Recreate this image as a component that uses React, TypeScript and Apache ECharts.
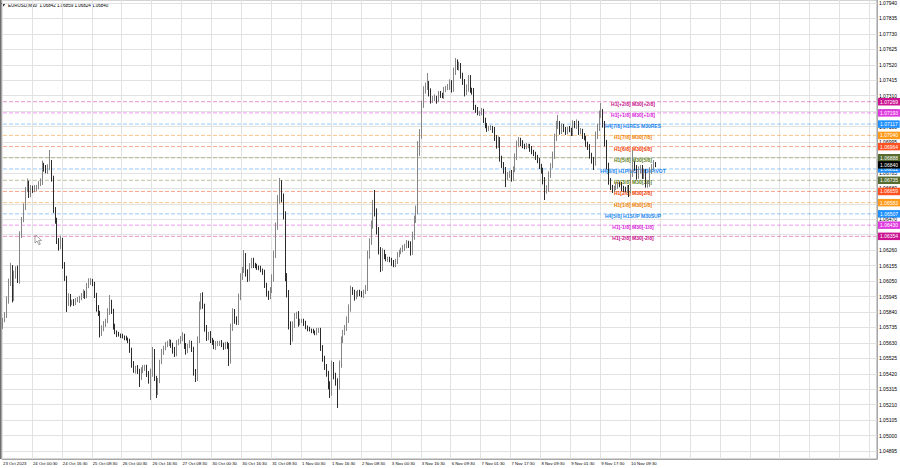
import React, { useEffect, useRef } from 'react';
import * as echarts from 'echarts';

// ---- time axis (hourly bars stamped at :30) ----
const SESSION_DAYS = ['23 Oct', '24 Oct', '25 Oct', '26 Oct', '27 Oct', '30 Oct', '31 Oct', '1 Nov', '2 Nov', '3 Nov', '6 Nov', '7 Nov', '8 Nov', '9 Nov', '10 Nov'];
const SESSION_FIRST_HOUR = [8, 0, 0, 0, 0, 0, 0, 0, 0, 0, 1, 0, 0, 0, 0];
const SESSION_LAST_HOUR = [23, 23, 23, 23, 23, 23, 23, 23, 23, 23, 23, 23, 23, 23, 22];
const FIRST_LABEL = '23 Oct 2023';
const TOTAL_SLOTS = 468;

// ---- prices in points (1 point = 0.00001) above 1.00000 ----
const FIRST_OPEN = 5750;
const CLOSE_PTS = [
  5785, 5819, 5921, 6037, 6139, 5935, 6091, 6125, 6057, 6363,
  6465, 6553, 6669, 6717, 6635, 6683, 6669, 6683, 6689, 6710,
  6723, 6839, 6819, 6798, 6819, 6853, 6751, 6533, 6465, 6322,
  6282, 6329, 6159, 6071, 5901, 5942, 5901, 5908, 5901, 5921,
  5921, 5935, 5949, 5969, 5949, 6017, 6044, 6050, 6030, 5955,
  5867, 5833, 5697, 5724, 5758, 5779, 5840, 5908, 5847, 5745,
  5704, 5690, 5683, 5677, 5670, 5663, 5656, 5643, 5582, 5486,
  5446, 5459, 5439, 5398, 5439, 5459, 5466, 5418, 5378, 5425,
  5568, 5391, 5296, 5371, 5500, 5568, 5595, 5616, 5629, 5636,
  5616, 5582, 5554, 5629, 5643, 5656, 5677, 5609, 5575, 5609,
  5629, 5588, 5432, 5391, 5649, 5881, 5949, 5881, 5731, 5663,
  5690, 5649, 5636, 5602, 5622, 5629, 5629, 5616, 5602, 5622,
  5609, 5514, 5731, 5840, 5785, 5772, 5935, 6078, 6125, 6220,
  6105, 6064, 6152, 6193, 6159, 6152, 6146, 6139, 6125, 6112,
  6023, 5969, 5942, 5989, 6071, 6227, 6418, 6601, 6710, 6615,
  6499, 6084, 5969, 5751, 5663, 5751, 5813, 5826, 5765, 5779,
  5779, 5765, 5738, 5724, 5717, 5711, 5704, 5697, 5717, 5717,
  5595, 5527, 5466, 5425, 5344, 5296, 5480, 5412, 5364, 5337,
  5480, 5649, 5697, 5731, 5785, 5867, 5989, 5976, 5942, 5962,
  5976, 5962, 5955, 5976, 6003, 6227, 6316, 6431, 6567, 6519,
  6397, 6261, 6139, 6248, 6214, 6200, 6200, 6193, 6173, 6159,
  6186, 6227, 6248, 6261, 6275, 6288, 6309, 6295, 6248, 6356,
  6465, 6533, 6941, 7043, 7247, 7349, 7369, 7390, 7335, 7281,
  7288, 7294, 7281, 7322, 7315, 7308, 7349, 7362, 7369, 7396,
  7356, 7471, 7532, 7505, 7512, 7451, 7403, 7335, 7362, 7430,
  7349, 7342, 7233, 7213, 7192, 7192, 7206, 7145, 7104, 7084,
  7090, 7090, 7077, 7022, 6975, 7009, 6887, 6839, 6805, 6757,
  6771, 6785, 6751, 6805, 6893, 6975, 7009, 6988, 6968, 6961,
  6968, 6968, 6948, 6927, 6914, 6893, 6866, 6832, 6805, 6737,
  6669, 6676, 6771, 6832, 6900, 7022, 7104, 7118, 7070, 7097,
  7077, 7063, 7084, 7077, 7056, 7118, 7104, 7124, 7063, 7070,
  7036, 7022, 6982, 6961, 6907, 6873, 6859, 7036, 7090, 7179,
  7199, 7118, 6995, 6839, 6730, 6689, 6669, 6683, 6696, 6710,
  6703, 6683, 6676, 6669, 6683, 6669, 6778, 6839, 6819, 6764,
  6805, 6819, 6764, 6791, 6710, 6710, 6798, 6825, 6853, 6840,
];
const WICK_HIGH_PTS = [
  15, 20, 25, 30, 35, 20, 30, 25, 30, 25,
  20, 25, 20, 30, 15, 20, 15, 20, 15, 20,
  25, 30, 15, 20, 25, 88, 20, 15, 20, 15,
  20, 30, 15, 20, 15, 25, 20, 15, 20, 15,
  20, 15, 20, 25, 15, 20, 25, 20, 15, 15,
  15, 20, 15, 25, 20, 15, 25, 47, 15, 15,
  15, 10, 15, 10, 15, 10, 15, 10, 15, 15,
  20, 15, 20, 15, 25, 20, 15, 15, 20, 30,
  34, 20, 15, 20, 15, 20, 15, 20, 15, 20,
  15, 15, 20, 20, 15, 20, 25, 15, 20, 15,
  20, 15, 15, 20, 25, 30, 20, 25, 15, 20,
  15, 20, 15, 15, 20, 15, 15, 20, 15, 15,
  15, 20, 30, 25, 20, 25, 30, 25, 20, 41,
  20, 25, 20, 15, 15, 15, 15, 10, 15, 10,
  15, 15, 15, 20, 25, 30, 30, 35, 41, 25,
  30, 25, 20, 20, 25, 25, 20, 15, 20, 15,
  15, 15, 15, 10, 15, 10, 15, 10, 15, 15,
  15, 20, 15, 20, 15, 25, 30, 20, 15, 25,
  30, 25, 20, 20, 25, 25, 30, 20, 15, 20,
  15, 15, 20, 15, 20, 30, 25, 30, 35, 102,
  25, 20, 20, 25, 15, 20, 15, 15, 15, 20,
  15, 20, 15, 15, 20, 15, 20, 15, 25, 30,
  30, 30, 60, 40, 30, 25, 30, 74, 20, 25,
  20, 25, 15, 20, 20, 15, 20, 15, 20, 25,
  20, 30, 34, 25, 30, 20, 15, 20, 25, 20,
  20, 15, 20, 15, 20, 15, 20, 15, 15, 20,
  15, 20, 15, 20, 20, 25, 20, 15, 20, 20,
  20, 15, 20, 25, 25, 30, 20, 15, 20, 15,
  20, 15, 15, 20, 15, 15, 15, 20, 15, 15,
  20, 25, 25, 20, 30, 30, 35, 61, 20, 25,
  20, 20, 15, 20, 15, 25, 20, 25, 15, 20,
  15, 20, 15, 15, 20, 15, 20, 30, 30, 30,
  61, 20, 20, 15, 15, 20, 15, 15, 20, 15,
  15, 20, 15, 15, 20, 20, 30, 102, 25, 20,
  25, 20, 20, 25, 20, 20, 25, 20, 20, 6,
];
const WICK_LOW_PTS = [
  25, 15, 20, 25, 20, 30, 20, 25, 20, 25,
  20, 15, 20, 15, 20, 15, 20, 15, 20, 15,
  15, 20, 25, 15, 20, 15, 25, 20, 25, 20,
  25, 15, 25, 20, 61, 20, 25, 15, 20, 15,
  15, 20, 15, 15, 20, 15, 15, 20, 15, 20,
  25, 20, 30, 20, 15, 20, 15, 20, 20, 25,
  15, 20, 10, 15, 10, 15, 10, 15, 20, 25,
  20, 25, 20, 68, 20, 15, 20, 20, 25, 136,
  25, 20, 41, 20, 15, 15, 20, 15, 15, 20,
  20, 25, 20, 15, 15, 20, 15, 20, 25, 15,
  15, 20, 25, 27, 20, 20, 25, 20, 25, 20,
  15, 20, 20, 15, 20, 15, 20, 15, 20, 15,
  20, 41, 25, 20, 25, 20, 20, 15, 20, 20,
  25, 20, 15, 15, 20, 15, 20, 15, 15, 20,
  20, 25, 20, 15, 20, 25, 20, 20, 25, 30,
  30, 35, 30, 30, 48, 25, 20, 20, 25, 15,
  15, 20, 15, 15, 10, 15, 10, 15, 15, 20,
  20, 25, 20, 25, 30, 41, 25, 30, 25, 150,
  25, 20, 20, 15, 20, 20, 25, 20, 25, 15,
  20, 15, 15, 20, 15, 20, 25, 20, 25, 30,
  30, 30, 28, 20, 15, 15, 20, 15, 20, 15,
  15, 20, 15, 15, 15, 20, 15, 20, 25, 20,
  25, 20, 30, 40, 25, 20, 25, 20, 30, 25,
  20, 15, 25, 15, 20, 15, 20, 15, 15, 20,
  25, 20, 20, 20, 25, 25, 20, 30, 20, 25,
  20, 25, 20, 20, 15, 20, 15, 20, 15, 20,
  15, 15, 20, 20, 25, 20, 25, 20, 25, 68,
  20, 20, 25, 20, 15, 20, 15, 20, 15, 15,
  15, 15, 20, 15, 15, 20, 15, 20, 25, 30,
  68, 25, 20, 20, 15, 20, 20, 20, 25, 20,
  15, 20, 15, 15, 20, 20, 15, 20, 20, 15,
  20, 15, 20, 20, 25, 25, 54, 25, 20, 20,
  20, 25, 30, 30, 25, 20, 20, 15, 15, 20,
  15, 20, 20, 15, 20, 48, 25, 20, 20, 25,
  20, 25, 20, 20, 25, 25, 20, 20, 15, 16,
];

// ---- price axis labels ----
const PRICE_TICKS = [
  1.0794, 1.07835, 1.0773, 1.07625, 1.0752, 1.07415, 1.0731, 1.07205, 1.071, 1.06995,
  1.0689, 1.06785, 1.0668, 1.06575, 1.0647, 1.06365, 1.0626, 1.06155, 1.0605, 1.05945,
  1.0584, 1.05735, 1.0563, 1.05525, 1.0542, 1.05315, 1.0521, 1.05105, 1.05, 1.04895,
];
const Y_MIN = 1.048406;
const Y_MAX = 1.079604;

// ---- Murrey levels ----
const LEVEL_PRICES = [1.07269, 1.07193, 1.07117, 1.0704, 1.06964, 1.06888, 1.06812, 1.06735, 1.06659, 1.06583, 1.06507, 1.0643, 1.06354];
const LEVEL_TEXTS = [
  'H1[+2/8] M30[+2/8]', 'H1[+1/8] M30[+1/8]', 'H4[7/8] H1RES M30RES', 'H1[7/8] M30[7/8]',
  'H1[6/8] M30[6/8]', 'H1[5/8] M30[5/8]', 'H4[6/8] H1PIVOT M30PIVOT', 'H1[3/8] M30[3/8]',
  'H1[2/8] M30[2/8]', 'H1[1/8] M30[1/8]', 'H4[5/8] H1SUP M30SUP', 'H1[-1/8] M30[-1/8]', 'H1[-2/8] M30[-2/8]',
];
const LEVEL_COLORS = ['#c8108a', '#d81ed8', '#1a86f0', '#f08000', '#f03c00', '#5f7f1c', '#1a86f0', '#5f7f1c', '#f03c00', '#f08000', '#1a86f0', '#d81ed8', '#c8108a'];
const LEVEL_TAG_COLORS = ['#cc1493', '#e03ae0', '#1e90ff', '#ff9a1a', '#ff5020', '#556b2f', '#1e90ff', '#556b2f', '#ff5020', '#ff9a1a', '#1e90ff', '#e03ae0', '#cc1493'];
const LEVEL_TEXT_SLOT = 337;
const LAST_PRICE = 1.0684;
const TITLE = 'EURUSD,M30  1.06842 1.06859 1.06824 1.06840';

const FONT = '"Liberation Sans", Arial, sans-serif';

function buildCategories(): string[] {
  const cats: string[] = [];
  SESSION_DAYS.forEach((d, k) => {
    for (let h = SESSION_FIRST_HOUR[k]; h <= SESSION_LAST_HOUR[k]; h++) {
      cats.push(`${d} ${String(h).padStart(2, '0')}:30`);
    }
  });
  while (cats.length < TOTAL_SLOTS) cats.push('');
  return cats;
}

function buildOhlc() {
  const toPrice = (p: number) => 1 + p / 100000;
  return CLOSE_PTS.map((c, i) => {
    const o = i === 0 ? FIRST_OPEN : CLOSE_PTS[i - 1];
    const hi = Math.max(o, c) + WICK_HIGH_PTS[i];
    const lo = Math.min(o, c) - WICK_LOW_PTS[i];
    return [toPrice(o), toPrice(c), toPrice(lo), toPrice(hi)];
  });
}

function tagLabel(text: string, bg: string) {
  return {
    show: true, distance: 2, formatter: text,
    backgroundColor: bg, color: '#ffffff', fontSize: 5, fontFamily: FONT,
    padding: [1.5, 2, 1, 2], align: 'left', verticalAlign: 'middle',
  };
}

export default function App() {
  const ref = useRef<HTMLDivElement>(null);
  useEffect(() => {
    document.body.style.margin = '0';
    if (!ref.current) return;
    const chart = echarts.init(ref.current, undefined, { renderer: 'svg' });
    const categories = buildCategories();
    const ohlc = buildOhlc();
    const lastSlot = TOTAL_SLOTS - 1;

    const levelSeries: any[] = LEVEL_PRICES.map((p, k) => ({
      type: 'line',
      z: 1,
      silent: true,
      showSymbol: false,
      symbol: 'none',
      data: [[0, p], [lastSlot, p]],
      lineStyle: { color: LEVEL_COLORS[k], type: [4, 2], width: 1, opacity: 0.45 },
      endLabel: tagLabel(p.toFixed(5), LEVEL_TAG_COLORS[k]),
    }));
    levelSeries.push({
      type: 'line',
      z: 2,
      silent: true,
      showSymbol: false,
      symbol: 'none',
      data: [[0, LAST_PRICE], [lastSlot, LAST_PRICE]],
      lineStyle: { opacity: 0 },
      endLabel: tagLabel(LAST_PRICE.toFixed(5), '#000000'),
    });

    chart.setOption({
      animation: false,
      backgroundColor: '#ffffff',
      grid: { left: 0, right: 23, top: 0, bottom: 9, show: true, borderColor: '#a8a8a8', borderWidth: 1 },
      xAxis: {
        type: 'category',
        data: categories,
        boundaryGap: true,
        axisLine: { show: true, lineStyle: { color: '#a8a8a8' } },
        axisTick: { show: false },
        axisLabel: {
          interval: 15, align: 'left', margin: 2, fontSize: 4.3, color: '#000', fontFamily: FONT,
          formatter: (v: string, idx: number) => (idx === 0 ? FIRST_LABEL : v),
        },
        splitLine: { show: true, interval: 15, lineStyle: { color: '#e2e2e2', width: 1 } },
      },
      yAxis: {
        type: 'value',
        position: 'right',
        min: Y_MIN,
        max: Y_MAX,
        axisLine: { show: true, lineStyle: { color: '#a8a8a8' } },
        axisTick: { show: false, customValues: PRICE_TICKS },
        axisLabel: {
          customValues: PRICE_TICKS, margin: 2, fontSize: 5, color: '#000', fontFamily: FONT,
          formatter: (v: number) => v.toFixed(5),
        },
        splitLine: { show: true, lineStyle: { color: '#e2e2e2', width: 1 } },
      },
      series: [
        ...levelSeries,
        {
          type: 'scatter',
          z: 1,
          silent: true,
          symbolSize: 0,
          data: LEVEL_PRICES.map((p, k) => ({
            value: [LEVEL_TEXT_SLOT, p],
            label: { color: LEVEL_COLORS[k] },
          })),
          label: {
            show: true, position: [0, 2], align: 'center', verticalAlign: 'middle',
            fontSize: 5, fontWeight: 'bold', fontFamily: FONT, textBorderWidth: 0, opacity: 1,
            formatter: (params: any) => LEVEL_TEXTS[params.dataIndex],
          },
        },
        {
          type: 'candlestick',
          z: 3,
          barWidth: 1.2,
          data: ohlc,
          itemStyle: {
            color: '#858585', borderColor: '#858585',
            color0: '#2b2b2b', borderColor0: '#2b2b2b',
            borderWidth: 1,
          },
        },
      ],
      graphic: [
        { type: 'polygon', shape: { points: [[1, 3], [6, 3], [3.5, 6.5]] }, style: { fill: '#333' } },
        { type: 'text', x: 8, y: 2.5, style: { text: TITLE, fontSize: 4.5, fontFamily: FONT, fill: '#000' } },
        { type: 'rect', shape: { x: 0, y: 0, width: 1.5, height: 459 }, style: { fill: '#707070' } },
        {
          type: 'polygon',
          shape: { points: [[35, 234], [35, 243], [37, 241], [38.8, 244.8], [40.3, 244.2], [38.6, 240.6], [41.4, 240.6]] },
          style: { fill: '#ffffff', stroke: '#666', lineWidth: 0.6 },
        },
      ],
    });
    return () => chart.dispose();
  }, []);
  return <div ref={ref} style={{ width: 900, height: 468 }} />;
}
